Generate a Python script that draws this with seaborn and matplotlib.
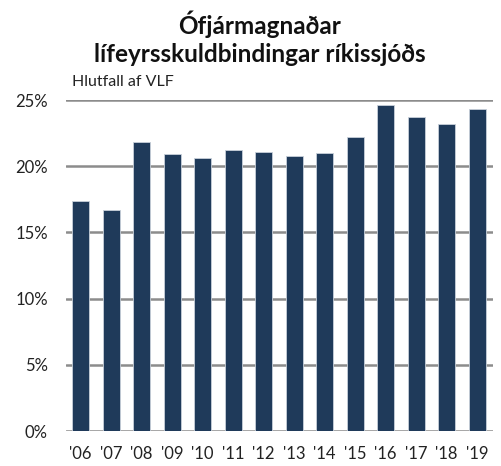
import pandas as pd
import seaborn as sns
import matplotlib.pyplot as plt
from matplotlib.ticker import FuncFormatter

ar = ["'06", "'07", "'08", "'09", "'10", "'11", "'12", "'13", "'14", "'15", "'16", "'17", "'18", "'19"]
hlutfall = [17.4, 16.7, 21.8, 20.9, 20.6, 21.2, 21.1, 20.8, 21.0, 22.2, 24.6, 23.7, 23.2, 24.3]

df = pd.DataFrame({"ar": ar, "hlutfall": hlutfall})

sns.set_style("white")
plt.rcParams["font.family"] = ["Lato", "DejaVu Sans"]

fig = plt.figure(figsize=(5.01, 4.66), dpi=100)
ax = fig.add_axes([0.1317, 0.0751, 0.8523, 0.7103])

sns.barplot(data=df, x="ar", y="hlutfall", color="#1f3a5a", saturation=1,
            width=0.56, edgecolor="#c8d0da", linewidth=0.6, ax=ax, zorder=3)

ax.set_ylim(0, 25)
ax.set_xlim(-0.48, 13.52)
ax.set_yticks([0, 5, 10, 15, 20, 25])
ax.yaxis.set_major_formatter(FuncFormatter(lambda v, p: f"{int(v)}%"))
ax.grid(axis="y", color="#8c8c8c", linewidth=1.8, zorder=0)
ax.grid(axis="x", visible=False)
for s in ax.spines.values():
    s.set_visible(False)
ax.tick_params(axis="y", length=0, pad=13, labelsize=12, labelcolor="#222222")
ax.tick_params(axis="x", length=0, pad=11, labelsize=12, labelcolor="#222222")
ax.set_xlabel("")
ax.set_ylabel("")

fig.text(0.519, 0.978, "Ófjármagnaðar\nlífeyrsskuldbindingar ríkissjóðs", ha="center", va="top",
         fontsize=17.5, fontweight="bold", linespacing=1.3, color="#111111")
fig.text(0.1437, 0.823, "Hlutfall af VLF", ha="left", va="center", fontsize=11.5, color="#222222")

fig.savefig("out.png", dpi=100)
